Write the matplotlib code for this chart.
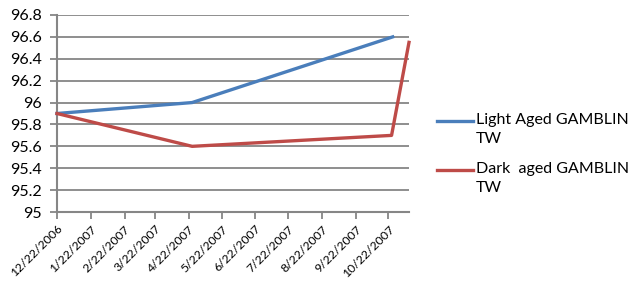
import matplotlib
matplotlib.use("Agg")
import matplotlib.pyplot as plt
from matplotlib.lines import Line2D
import pandas as pd

# data
light_dates = ["2006-12-22", "2007-04-25", "2007-10-26"]
light_vals = [95.9, 96.0, 96.6]
dark_dates = ["2006-12-22", "2007-04-25", "2007-10-25", "2007-11-10"]
dark_vals = [95.9, 95.6, 95.7, 96.55]
tick_dates = ["2006-12-22", "2007-01-22", "2007-02-22", "2007-03-22", "2007-04-22",
              "2007-05-22", "2007-06-22", "2007-07-22", "2007-08-22", "2007-09-22",
              "2007-10-22"]
tick_labels = ["12/22/2006", "1/22/2007", "2/22/2007", "3/22/2007", "4/22/2007",
               "5/22/2007", "6/22/2007", "7/22/2007", "8/22/2007", "9/22/2007",
               "10/22/2007"]
y_ticks = [95, 95.2, 95.4, 95.6, 95.8, 96, 96.2, 96.4, 96.6, 96.8]
series_names = ["Light Aged GAMBLIN\nTW", "Dark  aged GAMBLIN\nTW"]
series_colors = ["#4A7EBB", "#BE4B48"]

plt.rcParams["font.family"] = ["Lato", "DejaVu Sans"]
grey = "#868686"

fig = plt.figure(figsize=(6.4, 2.81), dpi=100)
ax = fig.add_axes([57 / 640, 1 - 212 / 281, 352 / 640, 197 / 281])

ax.plot(pd.to_datetime(light_dates), light_vals, color=series_colors[0], lw=2.4,
        solid_joinstyle="round", clip_on=False, zorder=3)
ax.plot(pd.to_datetime(dark_dates), dark_vals, color=series_colors[1], lw=2.4,
        solid_joinstyle="round", clip_on=False, zorder=3)

ax.set_xlim(pd.Timestamp("2006-12-22"), pd.Timestamp("2007-11-10"))
ax.set_ylim(95, 96.8)
ax.set_xticks(pd.to_datetime(tick_dates))
ax.set_xticklabels(tick_labels, rotation=45, ha="right", rotation_mode="anchor",
                   fontsize=8.8)
ax.set_yticks(y_ticks)
ax.set_yticklabels(["%g" % v for v in y_ticks], fontsize=11.5)

ax.grid(axis="y", color=grey, lw=1.3)
ax.set_axisbelow(True)
for s in ["top", "right"]:
    ax.spines[s].set_visible(False)
for s in ["left", "bottom"]:
    ax.spines[s].set_color(grey)
    ax.spines[s].set_linewidth(1.5)
ax.tick_params(axis="both", color=grey, width=1.3, length=5)
ax.tick_params(axis="x", pad=3)
ax.tick_params(axis="y", pad=6)

# legend drawn by hand so the key sits on the first text line, like Excel
for i, (name, col) in enumerate(zip(series_names, series_colors)):
    y = 1 - (121 + i * 49) / 281
    fig.add_artist(Line2D([437 / 640, 473 / 640], [y, y], color=col, lw=2.4,
                          transform=fig.transFigure))
    fig.text(476 / 640, y + 8 / 281, name, fontsize=11.5, va="top", ha="left",
             linespacing=1.45)

fig.savefig("out.png", dpi=100)
